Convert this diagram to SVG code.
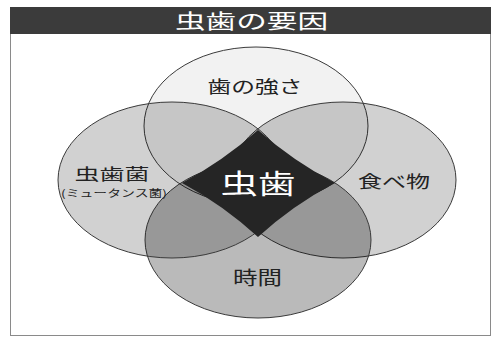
<svg xmlns="http://www.w3.org/2000/svg" width="495" height="340" viewBox="0 0 495 340">
<style>
.lbl{font-family:"Noto Sans CJK JP","Noto Sans CJK SC",sans-serif;fill:#222;text-anchor:middle}
.ell{stroke:#3a3a3a;stroke-width:1}
</style>
<rect x="0" y="0" width="495" height="340" fill="#fff"/>
<g id="frame">
<rect x="10.5" y="33.5" width="480" height="302" fill="#fff" stroke="#8a8a8a" stroke-width="1"/>
<rect x="10" y="7" width="481" height="27" fill="#3b3b3b"/>
<text x="251.5" y="29" font-family="Noto Sans CJK JP, sans-serif" font-size="20" fill="#fff" text-anchor="middle" textLength="153" lengthAdjust="spacingAndGlyphs">虫歯の要因</text>
</g>
<g id="node-top">
<ellipse class="ell" cx="256" cy="126" rx="112" ry="79" fill="#000" fill-opacity="0.05"/>
<text class="lbl" x="255" y="93" font-size="17" textLength="95" lengthAdjust="spacingAndGlyphs">歯の強さ</text>
</g>
<g id="node-right">
<ellipse class="ell" cx="343" cy="180" rx="113" ry="78" fill="#000" fill-opacity="0.18"/>
<text class="lbl" x="394" y="188" font-size="17" textLength="72" lengthAdjust="spacingAndGlyphs">食べ物</text>
</g>
<g id="node-bottom">
<ellipse class="ell" cx="258" cy="240" rx="113" ry="78" fill="#000" fill-opacity="0.27"/>
<text class="lbl" x="257.5" y="285" font-size="19" textLength="49" lengthAdjust="spacingAndGlyphs">時間</text>
</g>
<g id="node-left">
<ellipse class="ell" cx="172" cy="180" rx="114" ry="78" fill="#000" fill-opacity="0.18"/>
<text class="lbl" x="112" y="180" font-size="16" textLength="75" lengthAdjust="spacingAndGlyphs">虫歯菌</text>
<text class="lbl" x="114" y="197" font-size="10" textLength="106" lengthAdjust="spacingAndGlyphs">(ミュータンス菌)</text>
</g>
<g id="node-center">
<path d="M258,130 Q293,161 335,183 Q293,205 258,237 Q223,205 182,183 Q223,161 258,130 Z" fill="#252525"/>
<text x="258" y="194" font-family="Noto Sans CJK JP, sans-serif" font-size="27" fill="#fff" text-anchor="middle" textLength="75" lengthAdjust="spacingAndGlyphs">虫歯</text>
</g>
<g id="connectors"></g>
</svg>
